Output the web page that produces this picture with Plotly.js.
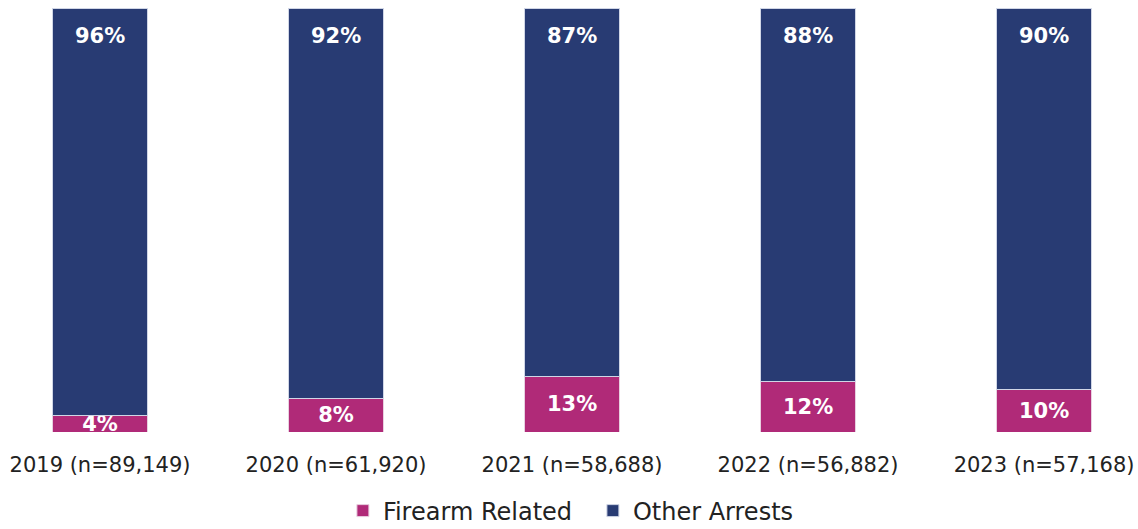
<!DOCTYPE html>
<html>
<head>
<meta charset="utf-8">
<script src="https://cdn.plot.ly/plotly-3.0.1.min.js"></script>
<style>html,body{margin:0;padding:0;background:#fff;}#chart{width:1138px;height:529px;}</style>
</head>
<body>
<div id="chart"></div>
<script>
const categories = ["2019 (n=89,149)", "2020 (n=61,920)", "2021 (n=58,688)", "2022 (n=56,882)", "2023 (n=57,168)"];
const firearmRelated = [4, 8, 13, 12, 10];
const otherArrests = [96, 92, 87, 88, 90];
const seriesNames = ["Firearm Related", "Other Arrests"];
const pct = v => v.map(x => x + "%");

const FONT = "DejaVu Sans, Open Sans, sans-serif";
const labelFont = {color: "#ffffff", size: 21, family: FONT, weight: "bold"};
const traces = [
  {
    type: "bar", name: seriesNames[0], x: categories, y: firearmRelated,
    marker: {color: "#b02a78", line: {color: "#e8d0e0", width: 1}},
    text: pct(firearmRelated), textposition: "inside", insidetextanchor: "middle",
    constraintext: "none", cliponaxis: false, textangle: 0,
    textfont: labelFont,
    hoverinfo: "skip"
  },
  {
    type: "bar", name: seriesNames[1], x: categories, y: otherArrests,
    marker: {color: "#283b73", line: {color: "#d0d6e6", width: 1}},
    hoverinfo: "skip"
  }
];
const annotations = categories.map((c, i) => ({
  x: c, y: firearmRelated[i] + otherArrests[i], xref: "x", yref: "y",
  text: pct(otherArrests)[i], showarrow: false, yanchor: "middle", yshift: -28,
  font: labelFont
}));
const layout = {
  width: 1138, height: 529,
  margin: {l: 0, r: 0, t: 8, b: 97},
  barmode: "stack", bargap: 0.6,
  paper_bgcolor: "#ffffff", plot_bgcolor: "#ffffff",
  font: {family: FONT, color: "#222222"},
  annotations: annotations,
  xaxis: {
    range: [-0.4237, 4.398], showgrid: false, zeroline: false, showline: false,
    automargin: false, ticks: "", ticklabelstandoff: 18,
    tickfont: {size: 21, family: FONT, color: "#222222"}
  },
  yaxis: {range: [0, 100], visible: false, fixedrange: true, automargin: false},
  showlegend: true,
  legend: {
    orientation: "h", x: 0.521, xanchor: "center", xref: "paper",
    yref: "container", y: 0.034, yanchor: "middle",
    entrywidth: 205,
    font: {size: 24, family: FONT, color: "#222222"}, itemwidth: 30, traceorder: "normal"
  }
};
Plotly.newPlot("chart", traces, layout, {staticPlot: true, displayModeBar: false});
</script>
</body>
</html>
